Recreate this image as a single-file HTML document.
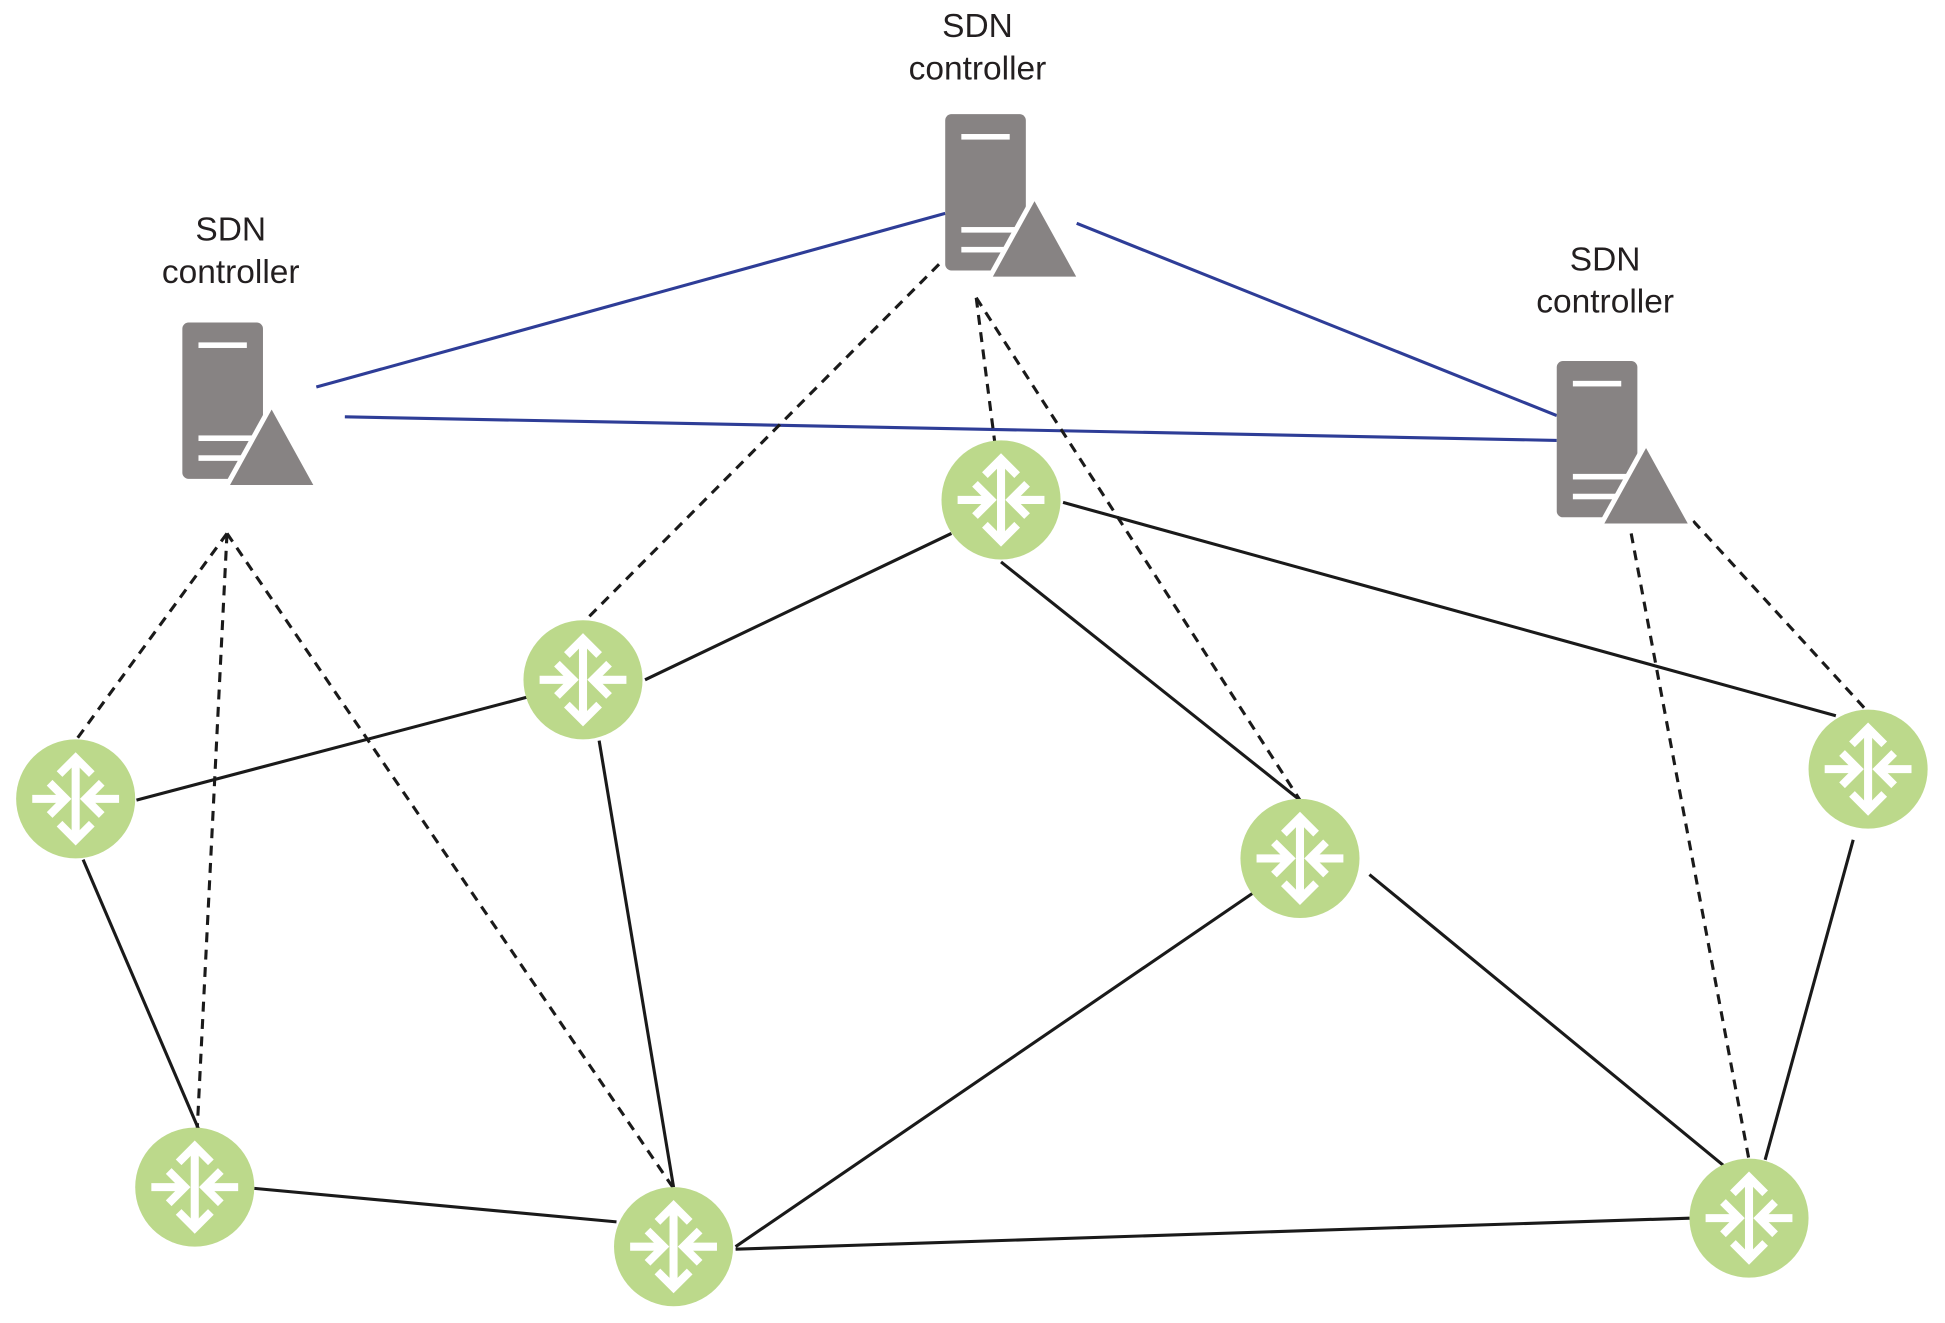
<!DOCTYPE html>
<html><head><meta charset="utf-8"><style>html,body{margin:0;padding:0;background:#fff}svg{display:block}</style></head><body>
<svg width="1945" height="1323" viewBox="0 0 1568 1066.5" xmlns="http://www.w3.org/2000/svg">
<defs>
<g id="srv">
<rect x="0" y="0" width="65" height="126" rx="5" fill="#878383"/>
<rect x="13" y="16" width="39" height="4.5" fill="#fff"/>
<rect x="13" y="91" width="45" height="4.5" fill="#fff"/>
<rect x="13" y="107" width="35" height="4.5" fill="#fff"/>
<path d="M72 66 L109 133 L35 133 Z" fill="#878383" stroke="#fff" stroke-width="4" stroke-linejoin="round"/>
</g>
<g id="rt">
<circle r="48" fill="#bcd98b"/>
<g stroke="#fff" stroke-width="6.5" fill="none">
<line x1="0" y1="-33" x2="0" y2="33"/>
<polyline points="-13,-20 0,-33 13,-20"/>
<polyline points="-13,20 0,33 13,20"/>
<line x1="-35" y1="0" x2="-8" y2="0"/>
<polyline points="-21,-13 -8,0 -21,13"/>
<line x1="35" y1="0" x2="8" y2="0"/>
<polyline points="21,-13 8,0 21,13"/>
</g>
</g>
</defs>
<g stroke="#2e3d97" stroke-width="2.5">
<line x1="762" y1="172" x2="255" y2="312"/>
<line x1="868" y1="180" x2="1255" y2="335"/>
<line x1="278" y1="336" x2="1255" y2="355"/>
</g>
<g stroke="#1a1a1a" stroke-width="2.5" stroke-dasharray="8,6">
<line x1="757" y1="213" x2="470" y2="502"/>
<line x1="787" y1="240" x2="802" y2="357"/>
<line x1="787" y1="240" x2="1048" y2="645"/>
<line x1="183" y1="430" x2="61" y2="597"/>
<line x1="183" y1="430" x2="159" y2="910"/>
<line x1="183" y1="430" x2="543" y2="958"/>
<line x1="1315" y1="430" x2="1410" y2="935"/>
<line x1="1365" y1="420" x2="1506" y2="574"/>
</g>
<g stroke="#1a1a1a" stroke-width="2.5">
<line x1="767" y1="430" x2="520" y2="548"/>
<line x1="857" y1="405" x2="1480" y2="577"/>
<line x1="807" y1="453" x2="1048" y2="645"/>
<line x1="425" y1="562" x2="110" y2="645"/>
<line x1="483" y1="597" x2="543" y2="957"/>
<line x1="67" y1="693" x2="160" y2="910"/>
<line x1="205" y1="958" x2="497" y2="985"/>
<line x1="593" y1="1005" x2="1010" y2="720"/>
<line x1="593" y1="1007" x2="1362" y2="982"/>
<line x1="1104" y1="705" x2="1390" y2="940"/>
<line x1="1494" y1="677" x2="1423" y2="935"/>
</g>
<use href="#srv" x="762" y="92"/>
<use href="#srv" x="147" y="260"/>
<use href="#srv" x="1255" y="291"/>
<use href="#rt" x="807" y="403"/>
<use href="#rt" x="470" y="548"/>
<use href="#rt" x="61" y="644"/>
<use href="#rt" x="1048" y="692"/>
<use href="#rt" x="1506" y="620"/>
<use href="#rt" x="157" y="957"/>
<use href="#rt" x="543" y="1005"/>
<use href="#rt" x="1410" y="982"/>
<g font-family="Liberation Sans, sans-serif" font-size="27" fill="#231f20" text-anchor="middle">
<text x="788" y="30">SDN</text><text x="788" y="64">controller</text>
<text x="186" y="194">SDN</text><text x="186" y="228">controller</text>
<text x="1294" y="218">SDN</text><text x="1294" y="252">controller</text>
</g>
</svg>
</body></html>
